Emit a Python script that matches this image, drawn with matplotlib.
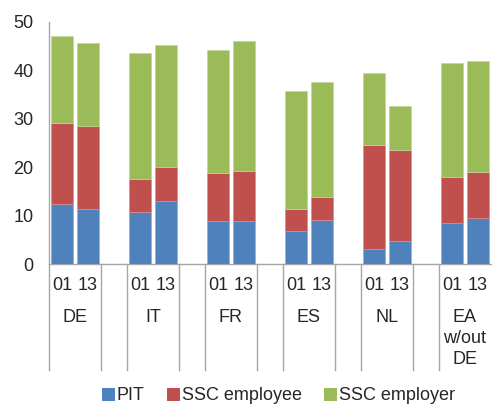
import matplotlib
matplotlib.use("Agg")
import matplotlib.pyplot as plt
import matplotlib.transforms as mtransforms
from matplotlib.patches import Patch
import numpy as np

plt.rcParams['font.family'] = ['Liberation Sans', 'DejaVu Sans']

countries = ["DE", "IT", "FR", "ES", "NL", "EA\nw/out\nDE"]
years = ["01", "13"]
# values per bar: order DE01, DE13, IT01, IT13, ...
pit = [12.4, 11.5, 10.7, 13.1, 8.9, 9.0, 6.8, 9.1, 3.2, 4.9, 8.6, 9.6]
ssc_employee = [16.8, 17.1, 6.9, 7.0, 9.9, 10.2, 4.7, 4.7, 21.5, 18.7, 9.4, 9.5]
ssc_employer = [17.9, 17.0, 26.0, 25.1, 25.5, 26.8, 24.2, 23.8, 14.7, 9.0, 23.5, 22.9]

col_blue = "#4F81BD"
col_red = "#C0504D"
col_green = "#9BBB59"
axis_col = "#A6A6A6"
txt_col = "#262626"
fs = 13

fig = plt.figure(figsize=(4.93, 4.08), dpi=100)
ax = fig.add_axes([49/493, (408-264.3)/408, (491-49)/493, (264.3-22)/408])

xs = []
for g in range(len(countries)):
    for k in range(len(years)):
        xs.append(3*g + k)
xs = np.array(xs, dtype=float)

pit_a = np.array(pit)
emp_a = np.array(ssc_employee)
er_a = np.array(ssc_employer)
w = 0.85
ax.bar(xs, pit_a, width=w, color=col_blue, edgecolor="#8FB0D8", linewidth=0.5, zorder=3)
ax.bar(xs, emp_a, width=w, bottom=pit_a, color=col_red, edgecolor="#D88E8C", linewidth=0.5, zorder=3)
ax.bar(xs, er_a, width=w, bottom=pit_a+emp_a, color=col_green, edgecolor="#C2D69B", linewidth=0.5, zorder=3)

ax.set_xlim(-0.5, 16.5)
ax.set_ylim(0, 50)
ax.set_yticks([0, 10, 20, 30, 40, 50])
ax.tick_params(axis='y', length=0, pad=11, labelsize=fs, labelcolor=txt_col)
ax.set_xticks([])
for s in ["top", "right"]:
    ax.spines[s].set_visible(False)
ax.spines["left"].set_color(axis_col)
ax.spines["bottom"].set_color(axis_col)
ax.spines["left"].set_linewidth(1.0)
ax.spines["bottom"].set_linewidth(1.0)
ax.spines["bottom"].set_zorder(2)

trans = mtransforms.blended_transform_factory(ax.transData, ax.transAxes)
ax_h = 264.3 - 22
def yax(px):
    return -(px - 264.3) / ax_h

seps = [-0.5]
for g in range(1, len(countries)):
    seps += [3*g - 1.5, 3*g - 0.5]
for sx in seps:
    ax.plot([sx, sx], [0, yax(370)], transform=trans, color=axis_col, lw=1.0, clip_on=False)

for g, c in enumerate(countries):
    for k, yr in enumerate(years):
        ax.text(3*g + k, yax(286), yr, transform=trans, ha='center', va='center',
                fontsize=fs, color=txt_col)
    for i, line in enumerate(c.split("\n")):
        ax.text(3*g + 0.5, yax(318 + 20.5*i), line, transform=trans, ha='center',
                va='center', fontsize=fs, color=txt_col)

handles = [Patch(facecolor=col_blue, edgecolor='none'),
           Patch(facecolor=col_red, edgecolor='none'),
           Patch(facecolor=col_green, edgecolor='none')]
fig.legend(handles, ["PIT", "SSC employee", "SSC employer"], loc='center',
           bbox_to_anchor=(278.5/493, 1 - 396/408), ncol=3, frameon=False, fontsize=fs,
           handlelength=0.72, handleheight=0.72, handletextpad=0.08, columnspacing=1.25,
           labelcolor=txt_col, borderpad=0, borderaxespad=0)

fig.savefig("out.png", dpi=100)
